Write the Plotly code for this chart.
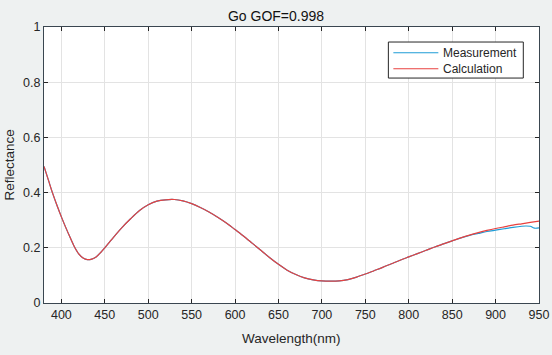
import plotly.graph_objects as go

wavelength = [380, 385, 390, 395, 400, 405, 410, 415, 420, 425, 430, 435, 440, 445, 450, 455,
              460, 470, 480, 490, 500, 510, 520, 530, 540, 550, 560, 570, 580, 590, 600, 610,
              620, 630, 640, 650, 660, 670, 680, 690, 700, 710, 720, 730, 740, 750, 760, 770,
              780, 790, 800, 810, 820, 830, 840, 850, 860, 870, 880, 890, 900, 910, 920, 930,
              940, 950]
calculation = [0.495, 0.446, 0.397, 0.353, 0.312, 0.274, 0.238, 0.204, 0.178, 0.163, 0.157,
               0.159, 0.167, 0.182, 0.200, 0.219, 0.238, 0.274, 0.306, 0.335, 0.356, 0.369,
               0.374, 0.375, 0.370, 0.360, 0.346, 0.330, 0.311, 0.290, 0.266, 0.242, 0.216,
               0.190, 0.164, 0.140, 0.119, 0.103, 0.091, 0.084, 0.080, 0.079, 0.080, 0.085,
               0.094, 0.105, 0.117, 0.129, 0.142, 0.155, 0.167, 0.179, 0.191, 0.203, 0.214,
               0.225, 0.236, 0.246, 0.255, 0.263, 0.270, 0.276, 0.282, 0.287, 0.292, 0.297]
meas_wavelength = wavelength[:57] + [870, 880, 890, 900, 910, 920, 930, 935, 940, 945, 950]
measurement = calculation[:57] + [0.245, 0.252, 0.259, 0.264, 0.269, 0.274, 0.278, 0.279,
                                  0.278, 0.271, 0.272]

x_ticks = [400, 450, 500, 550, 600, 650, 700, 750, 800, 850, 900, 950]
y_ticks = [0, 0.2, 0.4, 0.6, 0.8, 1]
y_tick_labels = ["0", "0.2", "0.4", "0.6", "0.8", "1"]
series_names = ["Measurement", "Calculation"]
series_colors = ["#1e9cd6", "#e8413f"]

FONT = "Liberation Sans, Arial, sans-serif"
AX = "#262626"

# plot area in pixels
W, H = 552, 355
L, R, T, B = 43.5, 13.3, 27, 52.3
PW, PH = W - L - R, H - T - B


def px(xp):
    return (xp - L) / PW


def py(yp):
    return (H - B - yp) / PH


fig = go.Figure()
fig.add_trace(go.Scatter(x=meas_wavelength, y=measurement, mode="lines", name=series_names[0],
                         line=dict(color=series_colors[0], width=1.2, shape="spline",
                                   smoothing=0.8)))
fig.add_trace(go.Scatter(x=wavelength, y=calculation, mode="lines", name=series_names[1],
                         line=dict(color=series_colors[1], width=1.2, shape="spline",
                                   smoothing=0.8)))

axis_common = dict(showline=True, linecolor="#3a4650", linewidth=1, mirror="ticks",
                   ticks="inside", ticklen=4, tickcolor=AX, showgrid=True,
                   gridcolor="#e3e3e3", gridwidth=1, zeroline=False, automargin=False,
                   tickfont=dict(family=FONT, size=12.5, color=AX))

# custom legend box
shapes = [dict(type="rect", xref="paper", yref="paper", x0=px(388), x1=px(523),
               y0=py(78), y1=py(42), line=dict(color=AX, width=1), fillcolor="white",
               layer="above")]
annotations = []
for i, (nm, col) in enumerate(zip(series_names, series_colors)):
    yy = 52.7 + 16 * i
    shapes.append(dict(type="line", xref="paper", yref="paper", x0=px(393), x1=px(438),
                       y0=py(yy), y1=py(yy), line=dict(color=col, width=1.2), layer="above"))
    annotations.append(dict(text=nm, xref="paper", yref="paper", x=px(441), y=py(yy),
                            xanchor="left", yanchor="middle", showarrow=False,
                            font=dict(family=FONT, size=12, color=AX)))

annotations.append(dict(text="Wavelength(nm)", xref="paper", yref="paper", x=0.5,
                        y=py(338), xanchor="center", yanchor="middle", showarrow=False,
                        font=dict(family=FONT, size=13.5, color=AX)))
annotations.append(dict(text="Reflectance", xref="paper", yref="paper", x=px(8),
                        y=0.5, xanchor="center", yanchor="middle", showarrow=False,
                        textangle=-90, font=dict(family=FONT, size=13.5, color=AX)))

fig.update_layout(
    width=W, height=H,
    margin=dict(l=L, r=R, t=T, b=B),
    paper_bgcolor="#eef1f1", plot_bgcolor="white",
    title=dict(text="Go GOF=0.998", x=0.5, xref="container", xanchor="center",
               y=1 - 16 / H, yref="container", yanchor="middle",
               font=dict(family=FONT, size=14, color="#111111")),
    xaxis=dict(range=[380, 950], tickvals=x_ticks, **axis_common),
    yaxis=dict(range=[0, 1], tickvals=y_ticks, ticktext=y_tick_labels, **axis_common),
    shapes=shapes, annotations=annotations,
    showlegend=False,
)

fig.write_html("out.html", config={"displayModeBar": False},
               post_script="document.body.style.margin='0px';"
                           "document.body.style.background='#eef1f1';")
